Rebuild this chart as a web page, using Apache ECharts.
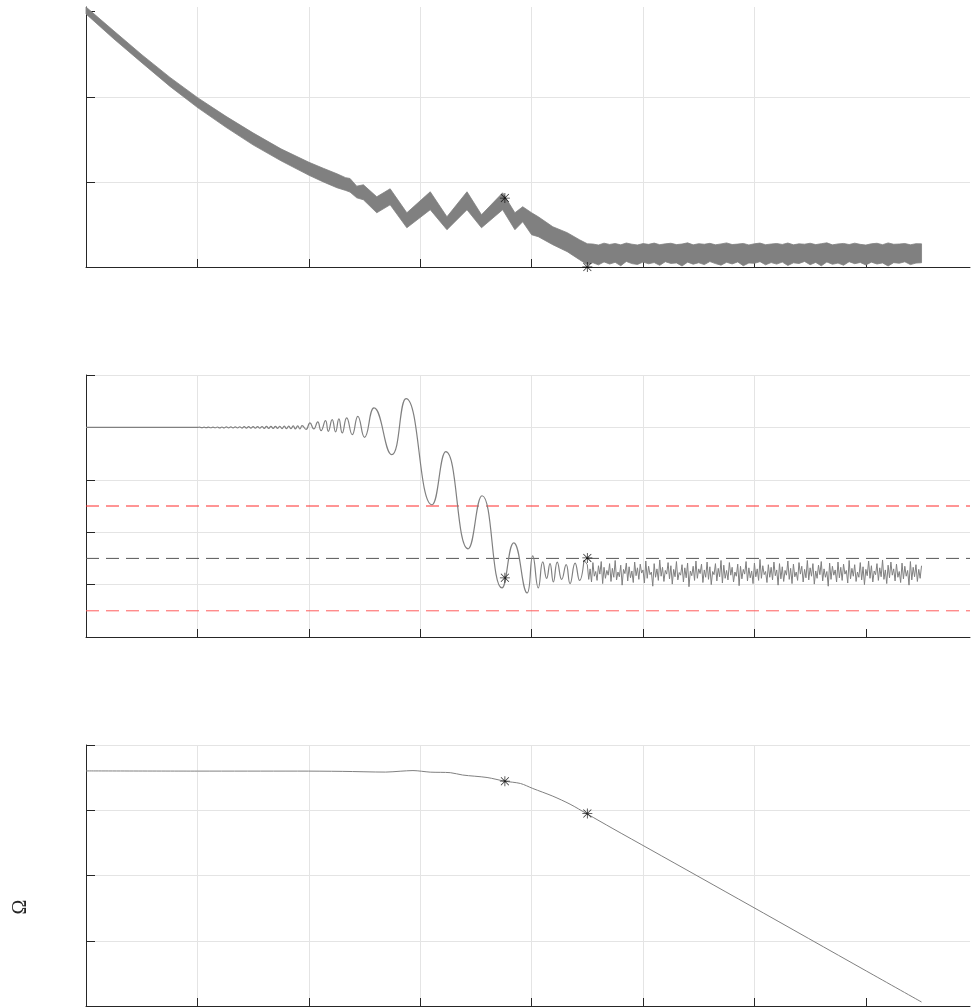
<!DOCTYPE html>
<html><head><meta charset="utf-8">
<script src="https://cdn.jsdelivr.net/npm/echarts@6/dist/echarts.min.js"></script>
<style>html,body{margin:0;padding:0;background:#fff}#c{width:971px;height:1007px}</style>
</head><body><div id="c"></div>
<script>
// ---------- axes ----------
const X_MAX = 7.935;
const X_TICKS = [0, 1, 2, 3, 4, 5, 6, 7];
const Y1_TICKS = [0, 1, 2, 3];
const Y2_TICKS = [0, 1, 2, 3, 4, 5];
const Y3_TICKS = [0, 1, 2, 3, 4];

// ---------- panel 1 : oscillating band (upper / lower envelope) ----------
const p1X = [0,0.251,0.503,0.754,1.005,1.257,1.499,1.75,2.002,2.13,2.253,2.33,2.37,2.43,2.49,2.61,2.73,2.88,3.09,3.24,3.42,3.55,3.74,3.85,3.92,4.0,4.06,4.19,4.32,4.43,4.5,
  4.55,4.6,4.65,4.7,4.75,4.8,4.85,4.9,4.95,5.0,5.05,5.1,5.15,5.2,5.25,5.3,5.35,5.4,5.45,5.5,5.55,5.6,5.65,5.7,5.75,5.8,5.85,5.9,5.95,6.0,
  6.05,6.1,6.15,6.2,6.25,6.3,6.35,6.4,6.45,6.5,6.55,6.6,6.65,6.7,6.75,6.8,6.85,6.9,6.95,7.0,7.05,7.1,7.15,7.2,7.25,7.3,7.35,7.4,7.45,7.5];
const p1Hi = [3.055,2.773,2.492,2.228,1.987,1.770,1.576,1.388,1.230,1.160,1.095,1.050,1.040,0.950,0.966,0.825,0.919,0.637,0.884,0.590,0.884,0.614,0.872,0.637,0.708,0.637,0.590,0.473,0.403,0.320,0.273,
  0.270,0.258,0.280,0.265,0.276,0.260,0.282,0.268,0.259,0.275,0.266,0.281,0.262,0.272,0.279,0.263,0.270,0.284,0.260,0.274,
  0.267,0.278,0.261,0.271,0.283,0.264,0.269,0.277,0.259,0.273,0.281,0.262,0.270,0.276,0.265,0.282,0.261,0.272,0.268,0.279,
  0.263,0.274,0.284,0.260,0.271,0.277,0.264,0.280,0.266,0.258,0.273,0.279,0.262,0.283,0.267,0.270,0.276,0.261,0.274,0.272];
const p1Lo = [2.973,2.679,2.398,2.122,1.870,1.641,1.435,1.248,1.077,1.000,0.931,0.900,0.880,0.813,0.790,0.637,0.731,0.461,0.673,0.438,0.673,0.461,0.673,0.438,0.532,0.379,0.356,0.262,0.180,0.086,0.027,
  0.050,0.025,0.060,0.035,0.055,0.015,0.065,0.040,0.030,0.058,0.038,0.052,0.020,0.062,0.042,0.048,0.012,0.057,0.033,0.050,
  0.028,0.064,0.040,0.022,0.055,0.036,0.060,0.015,0.047,0.043,0.063,0.026,0.052,0.034,0.058,0.018,0.049,0.041,0.065,0.027,
  0.054,0.014,0.059,0.032,0.046,0.021,0.062,0.039,0.053,0.024,0.057,0.035,0.048,0.012,0.051,0.044,0.061,0.028,0.046,0.050];
const p1Stars = [[3.76, 0.81], [4.50, 0.0]];

// ---------- panel 2 : damped response ----------
const p2WaveX = [0,0.5,0.8,1.0,1.02,1.04,1.06,1.08,1.10,1.12,1.14,1.16,1.18,1.20,1.22,1.24,1.26,1.28,1.30,1.32,1.34,1.36,1.38,1.40,1.42,1.44,1.46,1.48,1.50,
  1.52,1.54,1.56,1.58,1.60,1.62,1.64,1.66,1.68,1.70,1.72,1.74,1.76,1.78,1.80,1.82,1.84,1.86,1.88,1.90,1.92,1.94,1.975,
  2.01,2.045,2.08,2.11,2.15,2.175,2.21,2.24,2.27,2.30,2.34,2.39,2.44,2.50,2.585,2.744,2.873,3.106,3.23,3.43,3.555,3.734,3.84,3.96,4.01,4.06,
  4.10,4.135,4.165,4.195,4.23,4.27,4.31,4.345,4.39,4.43,4.47];
const p2WaveY = [4.0,4.0,4.002,4.0,4.006,3.994,4.006,3.994,4.007,3.993,4.007,3.993,4.008,3.992,4.008,3.992,4.009,3.991,4.010,3.990,4.011,3.989,4.012,3.988,4.013,3.987,4.014,3.986,4.015,
  3.985,4.016,3.984,4.017,3.983,4.018,3.982,4.019,3.981,4.020,3.980,4.022,3.978,4.024,3.976,4.026,3.974,4.028,3.972,4.031,3.969,4.034,3.962,
  4.086,3.971,4.105,3.939,4.130,3.926,4.149,3.914,4.163,3.895,4.182,3.862,4.212,3.811,4.373,3.480,4.551,2.524,3.537,1.683,2.696,0.937,1.797,0.841,1.549,0.937,
  1.434,1.12,1.40,1.05,1.43,1.10,1.38,1.02,1.41,1.08,1.47];
const P2_NOISE_X0 = 4.5, P2_NOISE_STEP = 0.0125;
const p2NoiseY = [
  1.38,1.10,1.30,1.05,1.42,1.16,1.25,1.08,1.36,1.20,1.44,1.02,1.33,1.12,1.27,1.18,1.40,1.06,1.31,1.14,
  1.46,1.09,1.24,1.15,1.37,0.99,1.29,1.21,1.41,1.07,1.34,1.13,1.26,1.04,1.43,1.17,1.32,1.10,1.39,1.22,
  1.28,1.03,1.45,1.12,1.35,1.19,1.24,0.97,1.40,1.14,1.30,1.08,1.47,1.16,1.33,1.06,1.27,1.20,1.42,1.11,
  1.36,1.01,1.29,1.15,1.44,1.09,1.23,1.18,1.38,1.05,1.32,1.13,1.41,0.96,1.26,1.17,1.35,1.08,1.45,1.12,
  1.30,1.21,1.39,1.04,1.28,1.14,1.43,1.10,1.34,1.00,1.25,1.19,1.40,1.07,1.31,1.15,1.46,1.03,1.37,1.12,
  1.27,1.09,1.42,1.18,1.33,1.05,1.24,1.16,1.39,0.98,1.35,1.11,1.29,1.20,1.44,1.07,1.32,1.13,1.26,1.02,
  1.41,1.15,1.30,1.08,1.48,1.12,1.36,1.19,1.25,1.04,1.38,1.14,1.33,1.09,1.43,1.17,1.28,0.99,1.40,1.11,
  1.34,1.06,1.27,1.18,1.45,1.10,1.31,1.02,1.39,1.15,1.24,1.08,1.42,1.20,1.35,1.05,1.29,1.13,1.46,1.09,
  1.32,1.16,1.40,1.01,1.26,1.12,1.37,1.19,1.44,1.07,1.30,1.14,1.25,0.97,1.41,1.10,1.35,1.18,1.28,1.05,
  1.43,1.13,1.33,1.08,1.39,1.20,1.27,1.03,1.46,1.11,1.31,1.16,1.38,1.06,1.24,1.14,1.42,1.09,1.34,1.00,
  1.29,1.17,1.45,1.12,1.36,1.05,1.26,1.19,1.40,1.08,1.32,1.15,1.47,1.10,1.28,1.02,1.37,1.13,1.43,1.18,
  1.30,1.07,1.39,1.14,1.25,1.04,1.41,1.11,1.35,1.16,1.27,0.99,1.44,1.09,1.33,1.15,1.38,1.06,1.29,1.12,
  1.36];
const p2RedLevels = [2.5, 0.5];
const p2BlackLevels = [1.5];
const p2Stars = [[3.76, 1.13], [4.50, 1.51]];

// ---------- panel 3 : roll-off ----------
const p3X = [0,1.0,1.9,2.3,2.69,2.82,2.935,3.09,3.27,3.38,3.6,3.76,3.9,4.01,4.19,4.345,4.497,4.73,5.063,5.96,7.008,7.5];
const p3Y = [3.603,3.600,3.600,3.596,3.585,3.598,3.608,3.584,3.576,3.540,3.502,3.445,3.41,3.334,3.216,3.093,2.945,2.718,2.40,1.541,0.533,0.061];
const p3Stars = [[3.76, 3.445], [4.50, 2.951]];

// ---------- build ----------
const AX = '#262626', GRIDC = '#e4e4e4', CURVE = '#808080';
const STAR = 'path://M9.2 0L10.8 0L10.8 20L9.2 20Z M0 9.2L20 9.2L20 10.8L0 10.8Z M1.5 2.6L2.6 1.5L18.5 17.4L17.4 18.5Z M17.4 1.5L18.5 2.6L2.6 18.5L1.5 17.4Z';

function xAx(gi) {
  return {type:'value', gridIndex:gi, min:0, max:X_MAX, interval:1,
    axisLine:{show:true, onZero:false, lineStyle:{color:AX, width:1}},
    axisTick:{show:true, inside:true, length:8, customValues:X_TICKS, lineStyle:{color:AX}},
    axisLabel:{show:false},
    splitLine:{show:true, showMaxLine:false, lineStyle:{color:GRIDC, width:1}}};
}
function yAx(gi, max, ticks, showMax) {
  return {type:'value', gridIndex:gi, min:0, max:max, interval:1,
    axisLine:{show:true, onZero:false, lineStyle:{color:AX, width:1}},
    axisTick:{show:true, inside:true, length:9, customValues:ticks, lineStyle:{color:AX}},
    axisLabel:{show:false},
    splitLine:{show:true, showMaxLine:showMax, lineStyle:{color:GRIDC, width:1}}};
}
function stars(gi, pts) {
  return {type:'scatter', xAxisIndex:gi, yAxisIndex:gi, data:pts, symbol:STAR, symbolSize:10,
    itemStyle:{color:'#000'}, clip:false, z:10, silent:true};
}
function refLine(v, color) {
  return {type:'line', xAxisIndex:1, yAxisIndex:1, data:[[0,v],[X_MAX,v]], symbol:'none', silent:true,
    lineStyle:{color:color, width:1, type:[13,7]}, z:1};
}

const bandData = p1X.map((x,i) => [x, p1Hi[i], p1Lo[i]]);
const series = [
  {type:'custom', xAxisIndex:0, yAxisIndex:0, data:bandData, encode:{x:0, y:[1,2]}, silent:true,
   renderItem: function(params, api) {
     if (params.dataIndex !== 0) return null;
     const pts = [];
     for (let i = 0; i < p1X.length; i++) pts.push(api.coord([p1X[i], p1Hi[i]]));
     for (let i = p1X.length - 1; i >= 0; i--) pts.push(api.coord([p1X[i], p1Lo[i]]));
     return {type:'polygon', shape:{points:pts, smooth:0}, style:{fill:CURVE, stroke:CURVE, lineWidth:0.8}};
   }},
  stars(0, p1Stars)
];
series.push(refLine(p2RedLevels[0], '#ff2a2a'));
series.push(refLine(p2RedLevels[1], '#ff5c5c'));
p2BlackLevels.forEach(v => series.push(refLine(v, '#555555')));
series.push({type:'line', xAxisIndex:1, yAxisIndex:1, data:p2WaveX.map((x,i)=>[x,p2WaveY[i]]),
  symbol:'none', smooth:0.5, silent:true, lineStyle:{color:CURVE, width:1.2}, z:3});
const noise = [[p2WaveX[p2WaveX.length-1], p2WaveY[p2WaveY.length-1]]]
  .concat(p2NoiseY.map((y,i)=>[P2_NOISE_X0 + i*P2_NOISE_STEP, y]));
series.push({type:'line', xAxisIndex:1, yAxisIndex:1, data:noise, symbol:'none', silent:true,
  lineStyle:{color:CURVE, width:1}, z:3});
series.push(stars(1, p2Stars));
series.push({type:'line', xAxisIndex:2, yAxisIndex:2, data:p3X.map((x,i)=>[x,p3Y[i]]), symbol:'none',
  smooth:0.3, silent:true, lineStyle:{color:CURVE, width:1}, z:3});
series.push(stars(2, p3Stars));

const chart = echarts.init(document.getElementById('c'), null, {renderer:'canvas'});
chart.setOption({
  animation:false,
  backgroundColor:'#ffffff',
  grid:[
    {left:86, top:7, width:884, height:260},
    {left:86, top:375, width:884, height:262},
    {left:86, top:745, width:884, height:261}
  ],
  xAxis:[xAx(0), xAx(1), xAx(2)],
  yAxis:[yAx(0, 3.055, Y1_TICKS, false), yAx(1, 5, Y2_TICKS, true), yAx(2, 4, Y3_TICKS, true)],
  graphic:[{type:'text', x:21, y:907, rotation:Math.PI/2,
    style:{text:'Ω', font:'20px "Liberation Serif", "DejaVu Serif", serif', fill:AX, align:'center', verticalAlign:'middle'}}],
  series:series
});
</script></body></html>
